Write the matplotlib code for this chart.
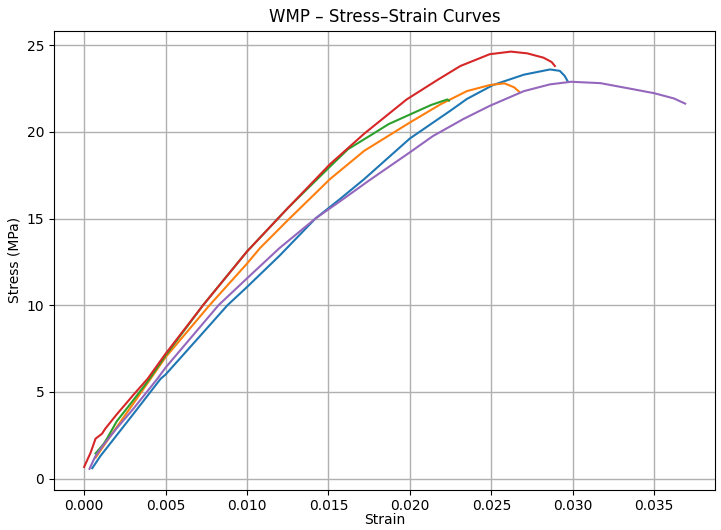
"""WMP stress-strain curves."""

import matplotlib

matplotlib.use("Agg")
import matplotlib.pyplot as plt

# strain / stress (MPa), one pair of lists per specimen
strain_1 = [0.0005, 0.0010, 0.0020, 0.0030, 0.0047, 0.0050, 0.0070, 0.0088, 0.0100, 0.0120,
            0.0142, 0.0157, 0.0172, 0.0200, 0.0225, 0.0235, 0.0251, 0.0270,
            0.0286, 0.0292, 0.0295, 0.0297]
stress_1 = [0.6, 1.3, 2.5, 3.7, 5.76, 6.0, 8.1, 10.0, 11.05, 12.86,
            15.0, 16.12, 17.28, 19.62, 21.23, 21.9, 22.7, 23.3,
            23.6, 23.52, 23.23, 22.9]

strain_2 = [0.0007, 0.0015, 0.0030, 0.0050, 0.0077, 0.0100, 0.0108, 0.0125, 0.0151, 0.0172,
            0.0200, 0.0219, 0.0235, 0.0249, 0.0258, 0.0264, 0.0267]
stress_2 = [1.2, 2.3, 4.3, 7.0, 10.0, 12.4, 13.3, 14.9, 17.28, 18.91,
            20.54, 21.6, 22.35, 22.7, 22.8, 22.57, 22.32]

strain_3 = [0.0007, 0.0012, 0.0014, 0.0020, 0.0030, 0.0039, 0.0050, 0.0073, 0.0100, 0.0125,
            0.0151, 0.0162, 0.0175, 0.0187, 0.0200, 0.0213, 0.0223, 0.0224]
stress_3 = [1.45, 2.0, 2.3, 3.3, 4.5, 5.6, 7.1, 10.0, 13.1, 15.6,
            18.0, 19.0, 19.75, 20.45, 21.0, 21.55, 21.87, 21.8]

strain_4 = [0.0000, 0.0004, 0.0007, 0.0011, 0.0013, 0.0020, 0.0030, 0.0039, 0.0050, 0.0073,
            0.0100, 0.0125, 0.0151, 0.0172, 0.0198, 0.0217, 0.0231, 0.0249, 0.0262, 0.0272,
            0.0282, 0.0287, 0.0289]
stress_4 = [0.67, 1.5, 2.3, 2.59, 2.88, 3.7, 4.8, 5.76, 7.2, 10.0,
            13.1, 15.6, 18.14, 19.9, 21.87, 23.0, 23.8, 24.48, 24.63, 24.53,
            24.28, 24.03, 23.8]

strain_5 = [0.00033, 0.00068, 0.0011, 0.0020, 0.0030, 0.0045, 0.0050, 0.00825, 0.0100, 0.0120,
            0.0142, 0.0159, 0.0175, 0.0200, 0.0214, 0.0233, 0.0249, 0.0270, 0.0286, 0.0299,
            0.0317, 0.0337, 0.0350, 0.0362, 0.0369]
stress_5 = [0.56, 1.27, 1.84, 2.9, 4.0, 5.76, 6.4, 10.0, 11.55, 13.3,
            15.0, 16.12, 17.2, 18.82, 19.75, 20.75, 21.5, 22.35, 22.74, 22.89,
            22.81, 22.46, 22.23, 21.93, 21.63]

curves = [
    (strain_1, stress_1),
    (strain_2, stress_2),
    (strain_3, stress_3),
    (strain_4, stress_4),
    (strain_5, stress_5),
]

fig = plt.figure(figsize=(7.21, 5.30), dpi=100)
ax = fig.add_axes([0.075, 0.076, 0.917, 0.866])

for x, y in curves:
    ax.plot(x, y, linewidth=1.5)

ax.set_title("WMP \u2013 Stress\u2013Strain Curves")
ax.set_xlabel("Strain", labelpad=0)
ax.set_ylabel("Stress (MPa)")
ax.grid(True, color="#b0b0b0", linewidth=1.0)

fig.savefig("out.png", dpi=100)
plt.close(fig)
